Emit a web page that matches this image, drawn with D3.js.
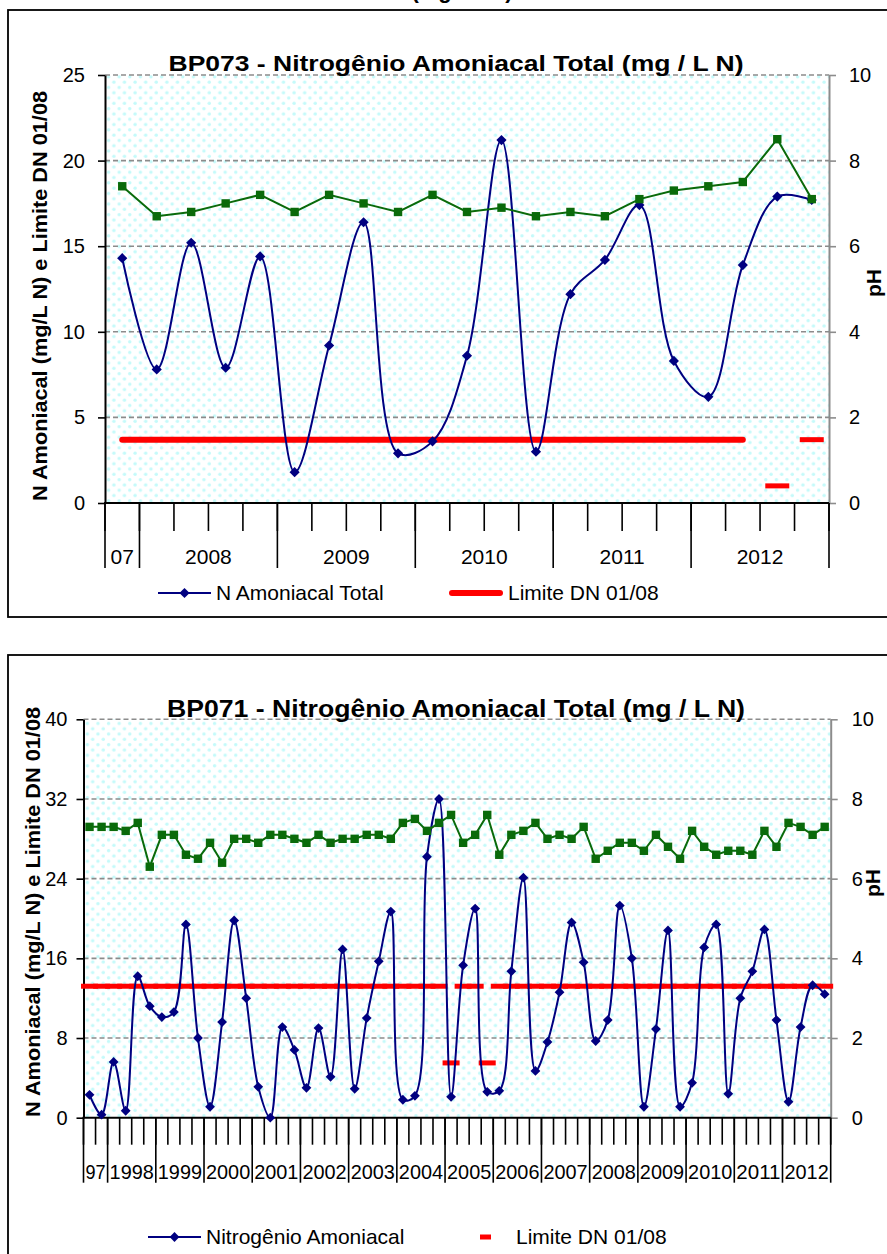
<!DOCTYPE html>
<html>
<head>
<meta charset="utf-8">
<script src="https://cdnjs.cloudflare.com/ajax/libs/d3/7.8.5/d3.min.js"></script>
<style>
  body { margin: 0; background: #fff; }
  svg text { font-family: "Liberation Sans", Arial, sans-serif; }
</style>
</head>
<body>
<div id="container"></div>
<script>
//----------------------------DATA------------------------------//
// BP073 (top chart)
const topYears = ["07", "2008", "2009", "2010", "2011", "2012"];
const topYearCounts = [1, 4, 4, 4, 4, 4];
const topAmonia = [14.3, 7.8, 15.2, 7.9, 14.4, 1.8, 9.2, 16.4, 2.9, 3.6, 8.6,
                   21.2, 3.0, 12.2, 14.2, 17.4, 8.3, 6.2, 13.9, 17.9, 17.7];
const topPH = [7.4, 6.7, 6.8, 7.0, 7.2, 6.8, 7.2, 7.0, 6.8, 7.2, 6.8,
               6.9, 6.7, 6.8, 6.7, 7.1, 7.3, 7.4, 7.5, 8.5, 7.1];
const topLimit = [3.7, 3.7, 3.7, 3.7, 3.7, 3.7, 3.7, 3.7, 3.7, 3.7, 3.7,
                  3.7, 3.7, 3.7, 3.7, 3.7, 3.7, 3.7, 3.7, 1.0, 3.7];
// consecutive points with the same id are joined, the others stand alone
const topLimitGroup = [0, 0, 0, 0, 0, 0, 0, 0, 0, 0, 0,
                       0, 0, 0, 0, 0, 0, 0, 0, 1, 2];

// BP071 (bottom chart)
const botYears = ["97", "1998", "1999", "2000", "2001", "2002", "2003", "2004",
                  "2005", "2006", "2007", "2008", "2009", "2010", "2011", "2012"];
const botYearCounts = [2, 4, 4, 4, 4, 4, 4, 4, 4, 4, 4, 4, 4, 4, 4, 4];
const botAmonia = [2.3, 0.3, 5.6, 0.7, 14.2, 11.2, 10.1, 10.6, 19.4, 8.0,
                   1.1, 9.6, 19.8, 12.0, 3.1, 0.0, 9.1, 6.8, 3.0, 9.0,
                   4.1, 16.9, 2.9, 10.0, 15.7, 20.7, 1.8, 2.2, 26.2, 32.0,
                   2.1, 15.3, 21.0, 2.6, 2.7, 14.7, 24.1, 4.7, 7.6, 12.6,
                   19.6, 15.6, 7.7, 9.8, 21.3, 16.0, 1.1, 8.9, 18.8, 1.1,
                   3.5, 17.1, 19.4, 2.4, 12.0, 14.7, 18.9, 9.8, 1.6, 9.1,
                   13.3, 12.4];
const botPH = [7.3, 7.3, 7.3, 7.2, 7.4, 6.3, 7.1, 7.1, 6.6, 6.5,
               6.9, 6.4, 7.0, 7.0, 6.9, 7.1, 7.1, 7.0, 6.9, 7.1,
               6.9, 7.0, 7.0, 7.1, 7.1, 7.0, 7.4, 7.5, 7.2, 7.4,
               7.6, 6.9, 7.1, 7.6, 6.6, 7.1, 7.2, 7.4, 7.0, 7.1,
               7.0, 7.3, 6.5, 6.7, 6.9, 6.9, 6.7, 7.1, 6.8, 6.5,
               7.2, 6.8, 6.6, 6.7, 6.7, 6.6, 7.2, 6.8, 7.4, 7.3,
               7.1, 7.3];
const botLimit = [13.2, 13.2, 13.2, 13.2, 13.2, 13.2, 13.2, 13.2, 13.2, 13.2,
                  13.2, 13.2, 13.2, 13.2, 13.2, 13.2, 13.2, 13.2, 13.2, 13.2,
                  13.2, 13.2, 13.2, 13.2, 13.2, 13.2, 13.2, 13.2, 13.2, 13.2,
                  5.5, 13.2, 13.2, 5.5, 13.2, 13.2, 13.2, 13.2, 13.2, 13.2,
                  13.2, 13.2, 13.2, 13.2, 13.2, 13.2, 13.2, 13.2, 13.2, 13.2,
                  13.2, 13.2, 13.2, 13.2, 13.2, 13.2, 13.2, 13.2, 13.2, 13.2,
                  13.2, 13.2];

//---------------------------COLOURS----------------------------//
const BLUE = "#000080";
const GREEN = "#0a6a0a";
const RED = "#ff0000";
const GRID = "#8c8c8c";

//-----------------------------SVG------------------------------//
const svg = d3.select("div#container").append("svg")
    .attr("width", 887)
    .attr("height", 1254);

// dotted light cyan fill of the plot area
const pat = svg.append("defs").append("pattern")
    .attr("id", "dots")
    .attr("patternUnits", "userSpaceOnUse")
    .attr("width", 10.6)
    .attr("height", 10.6);
pat.append("rect").attr("width", 10.6).attr("height", 10.6).attr("fill", "#fff");
pat.append("circle").attr("cx", 2.6).attr("cy", 2.6).attr("r", 1.7).attr("fill", "#c4fafa");
pat.append("circle").attr("cx", 7.9).attr("cy", 7.9).attr("r", 1.7).attr("fill", "#c4fafa");

// bits of a cut-off title above the first frame
svg.append("text")
    .attr("x", 462).attr("y", -2)
    .attr("text-anchor", "middle")
    .attr("font-size", 22).attr("font-weight", "bold")
    .text("(mg / L N)");

function drawChart(cfg) {
    const g = svg.append("g");
    const n = cfg.amonia.length;

    g.append("rect")
        .attr("x", cfg.frame[0]).attr("y", cfg.frame[1])
        .attr("width", cfg.frame[2]).attr("height", cfg.frame[3])
        .attr("fill", "#fff").attr("stroke", "#000").attr("stroke-width", 1.8);

    //----------------------------SCALES----------------------------//
    const x = d3.scaleBand().domain(d3.range(n)).range([cfg.x0, cfg.x1]);
    const y = d3.scaleLinear().domain([0, cfg.yMax]).range([cfg.y1, cfg.y0]);
    const yR = d3.scaleLinear().domain([0, 10]).range([cfg.y1, cfg.y0]);
    const cx = function (i) { return x(i) + x.bandwidth() / 2; };

    g.append("rect")
        .attr("x", cfg.x0).attr("y", cfg.y0)
        .attr("width", cfg.x1 - cfg.x0).attr("height", cfg.y1 - cfg.y0)
        .attr("fill", "url(#dots)");

    const yTicks = d3.range(0, cfg.yMax + 0.001, cfg.yStep);
    g.selectAll(".grid")
        .data(yTicks.slice(1))
        .enter().append("line")
        .attr("x1", cfg.x0).attr("x2", cfg.x1)
        .attr("y1", d => y(d)).attr("y2", d => y(d))
        .attr("stroke", GRID).attr("stroke-width", 1.6)
        .attr("stroke-dasharray", "5,3");

    //-----------------------------AXES-----------------------------//
    const axR = g.append("g")
        .attr("transform", "translate(" + cfg.x1 + ",0)")
        .call(d3.axisRight(yR).tickValues([0, 2, 4, 6, 8, 10])
            .tickSize(7).tickSizeOuter(0).tickPadding(cfg.rPad).tickFormat(d3.format("d")));
    axR.attr("font-size", 20);
    axR.select(".domain").attr("stroke", GRID).attr("stroke-width", 2);
    axR.selectAll(".tick line").attr("stroke", GRID).attr("stroke-width", 1.6);
    axR.selectAll(".tick text").attr("fill", "#000");

    const axL = g.append("g")
        .attr("transform", "translate(" + cfg.x0 + ",0)")
        .call(d3.axisLeft(y).tickValues(yTicks)
            .tickSize(7).tickSizeOuter(0).tickPadding(cfg.lPad).tickFormat(d3.format("d")));
    axL.attr("font-size", 20);
    axL.select(".domain").attr("stroke", "#000").attr("stroke-width", 2);
    axL.selectAll(".tick line").attr("stroke", "#000").attr("stroke-width", 1.6);

    // category axis: short tick per sample, long tick per year
    const edge = function (i) { return i < n ? x(i) : cfg.x1; };
    g.append("line")
        .attr("x1", cfg.x0 - 1).attr("x2", cfg.x1)
        .attr("y1", cfg.y1).attr("y2", cfg.y1)
        .attr("stroke", "#000").attr("stroke-width", 2);
    g.selectAll(".minor")
        .data(d3.range(n + 1))
        .enter().append("line")
        .attr("x1", edge).attr("x2", edge)
        .attr("y1", cfg.y1).attr("y2", cfg.y1 + cfg.minorLen)
        .attr("stroke", "#000").attr("stroke-width", 1.6);
    const bounds = [0].concat(Array.from(d3.cumsum(cfg.yearCounts)));
    g.selectAll(".major")
        .data(bounds)
        .enter().append("line")
        .attr("x1", edge).attr("x2", edge)
        .attr("y1", cfg.y1).attr("y2", cfg.y1 + cfg.majorLen)
        .attr("stroke", "#000").attr("stroke-width", 1.6);
    const yearLabels = g.selectAll(".year")
        .data(cfg.years)
        .enter().append("text")
        .attr("x", (d, i) => (edge(bounds[i]) + edge(bounds[i + 1])) / 2)
        .attr("y", cfg.labelY)
        .attr("dy", "0.35em")
        .attr("text-anchor", "middle")
        .attr("font-size", 21)
        .text(d => d);
    if (cfg.fitLabels) {
        yearLabels
            .attr("textLength", (d, i) => Math.min(d.length * 11.2, edge(bounds[i + 1]) - edge(bounds[i]) - 4))
            .attr("lengthAdjust", "spacingAndGlyphs");
    }

    //----------------------------LIMIT-----------------------------//
    if (cfg.limitGroup) {
        const groups = d3.groups(d3.range(n), i => cfg.limitGroup[i]);
        groups.forEach(function (gr) {
            const idx = gr[1];
            if (idx.length > 1) {
                g.append("path")
                    .attr("d", d3.line().x(cx).y(i => y(cfg.limit[i]))(idx))
                    .attr("fill", "none").attr("stroke", RED)
                    .attr("stroke-width", 6).attr("stroke-linecap", "round");
            } else {
                const i = idx[0];
                g.append("line")
                    .attr("x1", cx(i) - cfg.dashW / 2).attr("x2", cx(i) + cfg.dashW / 2)
                    .attr("y1", y(cfg.limit[i])).attr("y2", y(cfg.limit[i]))
                    .attr("stroke", RED).attr("stroke-width", 5);
            }
        });
    } else {
        g.selectAll(".lim")
            .data(cfg.limit)
            .enter().append("line")
            .attr("x1", (d, i) => cx(i) - cfg.dashW / 2)
            .attr("x2", (d, i) => cx(i) + cfg.dashW / 2)
            .attr("y1", d => y(d)).attr("y2", d => y(d))
            .attr("stroke", RED).attr("stroke-width", 5);
    }

    //----------------------------LINES-----------------------------//
    const blueLine = d3.line()
        .x((d, i) => cx(i))
        .y(d => y(d))
        .curve(d3.curveCatmullRom);
    g.append("path")
        .attr("d", blueLine(cfg.amonia))
        .attr("fill", "none").attr("stroke", BLUE).attr("stroke-width", 2);
    const diamond = d3.symbol().type(d3.symbolSquare).size(cfg.diamondSize);
    g.selectAll(".amo")
        .data(cfg.amonia)
        .enter().append("path")
        .attr("d", diamond)
        .attr("transform", (d, i) => "translate(" + cx(i) + "," + y(d) + ") rotate(45)")
        .attr("fill", BLUE);

    const greenLine = d3.line()
        .x((d, i) => cx(i))
        .y(d => yR(d));
    g.append("path")
        .attr("d", greenLine(cfg.ph))
        .attr("fill", "none").attr("stroke", GREEN).attr("stroke-width", 2);
    g.selectAll(".ph")
        .data(cfg.ph)
        .enter().append("rect")
        .attr("x", (d, i) => cx(i) - 4.2).attr("y", d => yR(d) - 4.2)
        .attr("width", 8.4).attr("height", 8.4)
        .attr("fill", GREEN);

    //----------------------------TEXTS-----------------------------//
    g.append("text")
        .attr("x", 456).attr("y", cfg.titleY)
        .attr("text-anchor", "middle")
        .attr("font-size", cfg.titleSize).attr("font-weight", "bold")
        .attr("textLength", cfg.titleLen).attr("lengthAdjust", "spacingAndGlyphs")
        .text(cfg.title);

    g.append("text")
        .attr("transform", "translate(" + cfg.yTitleX + "," + cfg.yTitleMid + ") rotate(-90)")
        .attr("text-anchor", "middle")
        .attr("font-size", 21).attr("font-weight", "bold")
        .attr("textLength", 410).attr("lengthAdjust", "spacingAndGlyphs")
        .text("N Amoniacal (mg/L N) e Limite DN 01/08");

    g.append("text")
        .attr("transform", "translate(" + cfg.phPos[0] + "," + cfg.phPos[1] + ") rotate(-90)")
        .attr("text-anchor", "middle")
        .attr("dy", "0.35em")
        .attr("font-size", 21).attr("font-weight", "bold")
        .text("pH");

    //----------------------------LEGEND----------------------------//
    const lg = g.append("g").attr("transform", "translate(0," + cfg.legendY + ")");
    lg.append("line")
        .attr("x1", cfg.legBlue[0]).attr("x2", cfg.legBlue[1])
        .attr("stroke", BLUE).attr("stroke-width", 2);
    lg.append("path")
        .attr("d", diamond)
        .attr("transform", "translate(" + (cfg.legBlue[0] + cfg.legBlue[1]) / 2 + ",0) rotate(45)")
        .attr("fill", BLUE);
    lg.append("text")
        .attr("x", cfg.legBlue[1] + 5).attr("dy", "0.35em")
        .attr("font-size", 21)
        .text(cfg.legendName);
    lg.append("line")
        .attr("x1", cfg.legRed[0]).attr("x2", cfg.legRed[1])
        .attr("stroke", RED).attr("stroke-width", cfg.legRedW)
        .attr("stroke-linecap", cfg.legRedCap);
    lg.append("text")
        .attr("x", cfg.legRed[2]).attr("dy", "0.35em")
        .attr("font-size", 21)
        .text("Limite DN 01/08");
}

//-------------------------2. DRAWING---------------------------//
drawChart({
    frame: [8, 10, 900, 607],
    x0: 105, x1: 829, y0: 75, y1: 503,
    yMax: 25, yStep: 5, lPad: 13, rPad: 13,
    amonia: topAmonia, ph: topPH, limit: topLimit, limitGroup: topLimitGroup,
    years: topYears, yearCounts: topYearCounts,
    minorLen: 28, majorLen: 65, labelY: 557, fitLabels: false,
    dashW: 24, diamondSize: 52,
    title: "BP073 - Nitrogênio Amoniacal Total (mg / L N)",
    titleY: 71, titleSize: 22, titleLen: 575,
    yTitleX: 47, yTitleMid: 296, phPos: [874, 283],
    legendY: 593, legendName: "N Amoniacal Total",
    legBlue: [158, 211], legRed: [452, 500, 508], legRedW: 6, legRedCap: "round"
});

drawChart({
    frame: [8, 655, 900, 620],
    x0: 83.5, x1: 830.7, y0: 719.3, y1: 1117.7,
    yMax: 40, yStep: 8, lPad: 9, rPad: 14,
    amonia: botAmonia, ph: botPH, limit: botLimit, limitGroup: null,
    years: botYears, yearCounts: botYearCounts,
    minorLen: 27, majorLen: 65, labelY: 1172, fitLabels: true,
    dashW: 17, diamondSize: 48,
    title: "BP071 - Nitrogênio  Amoniacal  Total  (mg / L N)",
    titleY: 717, titleSize: 24, titleLen: 578,
    yTitleX: 40, yTitleMid: 912, phPos: [873, 883],
    legendY: 1237, legendName: "Nitrogênio Amoniacal",
    legBlue: [148, 201], legRed: [480, 491, 516], legRedW: 5, legRedCap: "butt"
});
</script>
</body>
</html>
